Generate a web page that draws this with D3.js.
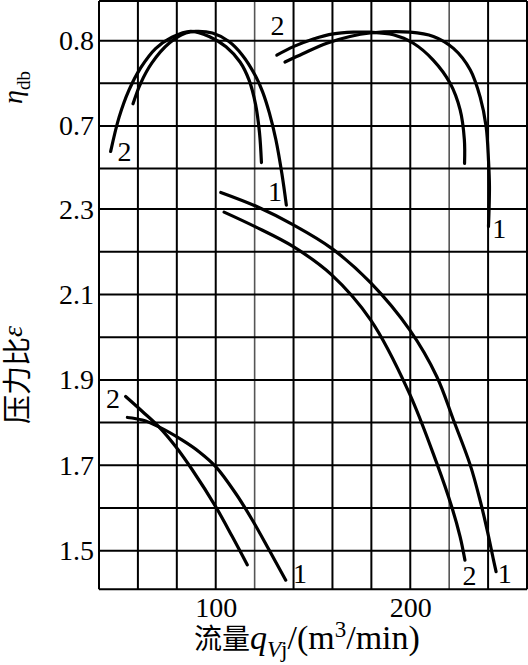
<!DOCTYPE html>
<html><head><meta charset="utf-8">
<script src="https://cdn.jsdelivr.net/npm/d3@7"></script>
<style>html,body{margin:0;padding:0;background:#fff;} svg{display:block;}</style>
</head><body><div id="chart"></div>
<script>
// ---------- data ----------
const flowGrid = [40, 60, 80, 100, 120, 140, 160, 180, 200, 220, 240, 260];
const flowGridLight = [120, 220];
const etaGrid = [0.7, 0.75, 0.8];
const epsGrid = [1.5, 1.6, 1.7, 1.8, 1.9, 2.0, 2.1, 2.2, 2.3];
const etaBoundary = 0.65;
const epsBottom = 1.41;
const flowTicks = [100, 200];
const etaTicks = [0.7, 0.8];
const epsTicks = [1.5, 1.7, 1.9, 2.1, 2.3];

// efficiency curves, small compressor (left)
const etaL1Flow = [57.5, 61.4, 67.2, 76.0, 84.6, 89.7, 98.3, 106.8, 113.7, 120.6, 124.1, 127.6, 130.9, 134.0, 136.3];
const etaL1 = [0.726, 0.750, 0.774, 0.797, 0.809, 0.811, 0.809, 0.799, 0.783, 0.758, 0.740, 0.715, 0.684, 0.644, 0.607];
const etaL2Flow = [46.0, 50.3, 55.4, 61.4, 69.2, 77.5, 87.1, 96.6, 105.3, 112.5, 117.1, 120.5, 122.5, 123.5];
const etaL2 = [0.670, 0.710, 0.742, 0.768, 0.791, 0.804, 0.811, 0.805, 0.793, 0.775, 0.754, 0.725, 0.692, 0.657];
// efficiency curves, large compressor (right)
const etaR1Flow = [135.6, 145.0, 157.1, 169.0, 179.3, 199.9, 211.9, 222.2, 230.8, 235.9, 239.0, 240.2, 240.7, 240.2];
const etaR1 = [0.775, 0.785, 0.797, 0.805, 0.809, 0.810, 0.805, 0.791, 0.766, 0.734, 0.699, 0.660, 0.629, 0.582];
const etaR2Flow = [131.4, 139.9, 150.2, 160.5, 170.7, 179.3, 191.3, 201.6, 211.9, 220.5, 225.6, 227.8, 227.9];
const etaR2 = [0.783, 0.793, 0.802, 0.808, 0.810, 0.810, 0.807, 0.797, 0.777, 0.750, 0.719, 0.684, 0.656];

// pressure ratio curves, small compressor (left)
const epsL1Flow = [54.6, 62.3, 70.8, 82.8, 91.4, 100.0, 110.3, 118.8, 127.4, 136.0];
const epsL1 = [1.812, 1.806, 1.790, 1.759, 1.732, 1.697, 1.634, 1.572, 1.502, 1.431];
const epsL2Flow = [53.7, 62.3, 70.8, 79.4, 88.0, 100.0, 108.5, 116.2];
const epsL2 = [1.861, 1.826, 1.790, 1.744, 1.689, 1.603, 1.533, 1.467];
// pressure ratio curves, large compressor (right)
const epsR1Flow = [102.6, 121.1, 139.9, 159.6, 179.7, 199.7, 213.6, 222.2, 230.8, 236.1, 239.5, 242.8, 244.1];
const epsR1 = [2.339, 2.306, 2.263, 2.208, 2.127, 2.017, 1.908, 1.806, 1.701, 1.614, 1.549, 1.478, 1.451];
const epsR2Flow = [104.3, 120.2, 139.9, 159.6, 179.7, 199.2, 213.6, 221.3, 225.6, 228.1];
const epsR2 = [2.293, 2.259, 2.212, 2.146, 2.040, 1.872, 1.705, 1.603, 1.533, 1.478];

// curve number labels: [flow, value, text]
const etaLabels = [[53.1, 0.659, "2"], [130.5, 0.612, "1"], [131.8, 0.807, "2"], [245.7, 0.568, "1"]];
const epsLabels = [[47.2, 1.834, "2"], [143.3, 1.424, "1"], [230.5, 1.419, "2"], [248.5, 1.424, "1"]];

// ---------- drawing ----------
const W = 528, H = 665;
const svg = d3.select("#chart").append("svg").attr("width", W).attr("height", H);

const x = d3.scaleLinear().domain([40, 260]).range([99, 527]);
const yEta = d3.scaleLinear().domain([0.65, 0.8]).range([168.5, 40.7]);
const yEps = d3.scaleLinear().domain([1.5, 2.3]).range([550.7, 209.1]);

const serif = "'Liberation Serif','Times New Roman',serif";
const cjk = "'Noto Sans CJK SC','Noto Sans CJK JP',sans-serif";

const grid = svg.append("g");
const yTopPx = 1, yBotPx = yEps(epsBottom);
grid.selectAll("line.v").data(flowGrid).join("line")
  .attr("x1", d => x(d)).attr("x2", d => x(d))
  .attr("y1", yTopPx).attr("y2", yBotPx)
  .attr("stroke", d => flowGridLight.includes(d) ? "#555" : "#000")
  .attr("stroke-width", d => flowGridLight.includes(d) ? 1.6 : 2);
grid.selectAll("line.he").data(etaGrid.concat([etaBoundary])).join("line")
  .attr("x1", x(40)).attr("x2", x(260))
  .attr("y1", d => yEta(d)).attr("y2", d => yEta(d))
  .attr("stroke", "#000").attr("stroke-width", 2);
grid.selectAll("line.hp").data(epsGrid.concat([epsBottom])).join("line")
  .attr("x1", x(40)).attr("x2", x(260))
  .attr("y1", d => yEps(d)).attr("y2", d => yEps(d))
  .attr("stroke", "#000").attr("stroke-width", 2);
grid.append("line").attr("x1", x(40)).attr("x2", x(260)).attr("y1", yTopPx).attr("y2", yTopPx)
  .attr("stroke", "#000").attr("stroke-width", 2);

function styleAxis(g) {
  g.select(".domain").remove();
  g.selectAll("line").remove();
  g.selectAll("text").attr("font-family", serif).attr("font-size", 28).attr("fill", "#000");
}
svg.append("g").attr("transform", `translate(${x(40)},0)`)
  .call(d3.axisLeft(yEta).tickValues(etaTicks).tickFormat(d3.format(".1f")).tickSize(0).tickPadding(5))
  .call(styleAxis);
svg.append("g").attr("transform", `translate(${x(40)},0)`)
  .call(d3.axisLeft(yEps).tickValues(epsTicks).tickFormat(d3.format(".1f")).tickSize(0).tickPadding(5))
  .call(styleAxis);
svg.append("g").attr("transform", `translate(0,${yBotPx})`)
  .call(d3.axisBottom(x).tickValues(flowTicks).tickFormat(d3.format("d")).tickSize(0).tickPadding(8))
  .call(styleAxis);

const etaLine = d3.line().x(d => x(d[0])).y(d => yEta(d[1])).curve(d3.curveCatmullRom.alpha(0.5));
const epsLine = d3.line().x(d => x(d[0])).y(d => yEps(d[1])).curve(d3.curveCatmullRom.alpha(0.5));
const etaCurves = [[etaL1Flow, etaL1], [etaL2Flow, etaL2], [etaR1Flow, etaR1], [etaR2Flow, etaR2]];
const epsCurves = [[epsL1Flow, epsL1], [epsL2Flow, epsL2], [epsR1Flow, epsR1], [epsR2Flow, epsR2]];
const curves = svg.append("g").attr("fill", "none").attr("stroke", "#000").attr("stroke-width", 3.2).attr("stroke-linecap", "round");
curves.selectAll("path.eta").data(etaCurves).join("path")
  .attr("d", c => etaLine(d3.zip(c[0], c[1])));
curves.selectAll("path.eps").data(epsCurves).join("path")
  .attr("d", c => epsLine(d3.zip(c[0], c[1])));

const lab = svg.append("g").attr("font-family", serif).attr("font-size", 28).attr("text-anchor", "middle");
lab.selectAll("text.le").data(etaLabels).join("text")
  .attr("x", d => x(d[0])).attr("y", d => yEta(d[1])).text(d => d[2]);
lab.selectAll("text.lp").data(epsLabels).join("text")
  .attr("x", d => x(d[0])).attr("y", d => yEps(d[1])).text(d => d[2]);

// y title: efficiency
const t1 = svg.append("text").attr("transform", "translate(22,104) rotate(-90)")
  .attr("font-family", serif).attr("fill", "#000");
t1.append("tspan").attr("font-size", 28).attr("font-style", "italic").text("η");
t1.append("tspan").attr("font-size", 19).attr("dy", 8).text("db");

// y title: pressure ratio
const t2 = svg.append("text").attr("transform", "translate(28,424) rotate(-90)").attr("fill", "#000");
t2.append("tspan").attr("font-family", cjk).attr("font-size", 29).text("压力比");
t2.append("tspan").attr("font-family", serif).attr("font-style", "italic").attr("font-size", 28).attr("dy", -6).text("ε");

// x title
const t3 = svg.append("text").attr("x", 194).attr("y", 649).attr("fill", "#000").attr("font-family", serif);
t3.append("tspan").attr("font-family", cjk).attr("font-size", 28).text("流量");
t3.append("tspan").attr("font-size", 34).attr("font-style", "italic").text("q");
t3.append("tspan").attr("font-size", 23).attr("font-style", "italic").attr("dy", 8).text("V");
t3.append("tspan").attr("font-size", 23).text("j");
t3.append("tspan").attr("font-size", 34).attr("dy", -8).text("/(m");
t3.append("tspan").attr("font-size", 23).attr("dy", -12).text("3");
t3.append("tspan").attr("font-size", 34).attr("dy", 12).text("/min)");
</script>
</body></html>
